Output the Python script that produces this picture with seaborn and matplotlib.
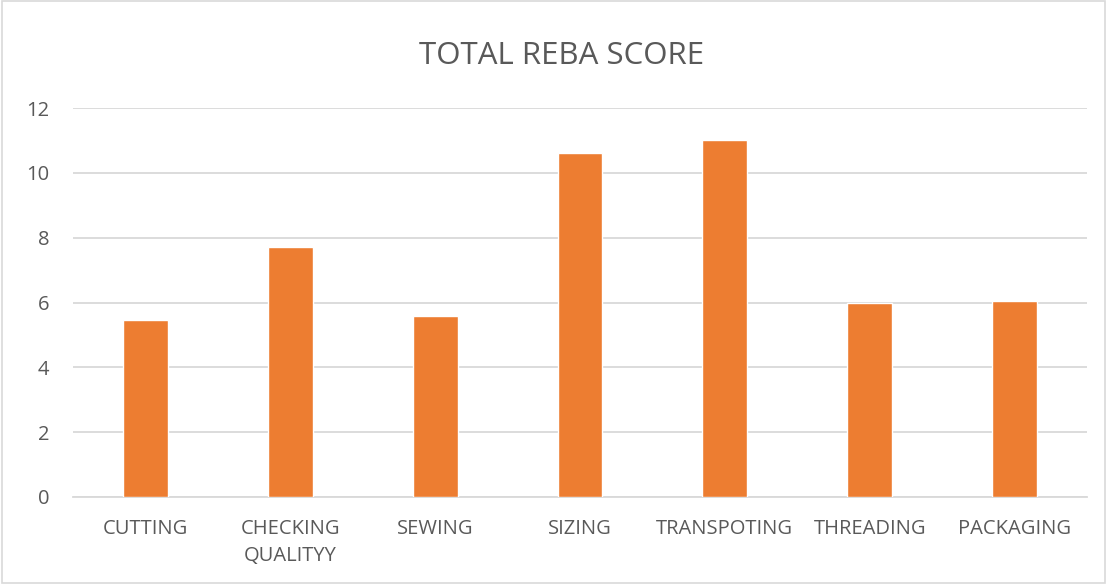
import pandas as pd
import seaborn as sns
import matplotlib.pyplot as plt
from matplotlib.patches import Rectangle

# Data
tasks = ['CUTTING', 'CHECKING\nQUALITYY', 'SEWING', 'SIZING',
         'TRANSPOTING', 'THREADING', 'PACKAGING']
scores = [5.47, 7.70, 5.59, 10.6, 11.0, 6.0, 6.06]

df = pd.DataFrame({'Task': tasks, 'Score': scores})

sns.set_style('white')
plt.rcParams['font.family'] = ['Open Sans', 'DejaVu Sans']

fig = plt.figure(figsize=(11.07, 5.84), dpi=100)
ax = fig.add_axes([73 / 1107, 1 - 497 / 584, (1087 - 73) / 1107, (497 - 108) / 584])

sns.barplot(data=df, x='Task', y='Score', color='#ED7D31', saturation=1,
            width=0.31, ax=ax, zorder=3)

ax.set_ylim(0, 12)
ax.set_yticks(range(0, 13, 2))
ax.set_xlim(-0.5, len(tasks) - 0.5)
ax.yaxis.grid(True, color='#D9D9D9', linewidth=1.3, zorder=0)
ax.set_axisbelow(True)
for side in ['left', 'right', 'top']:
    ax.spines[side].set_visible(False)
ax.spines['bottom'].set_color('#D9D9D9')
ax.spines['bottom'].set_linewidth(1.3)
ax.tick_params(axis='both', length=0, labelsize=14.5, labelcolor='#595959')
ax.tick_params(axis='x', pad=16)
ax.tick_params(axis='y', pad=17)
for lbl in ax.get_xticklabels():
    lbl.set_verticalalignment('top')
    lbl.set_linespacing(1.45)
ax.set_xlabel('')
ax.set_ylabel('')

fig.text(562 / 1107, 1 - 56 / 584, 'TOTAL REBA SCORE', ha='center', va='center',
         fontsize=22.5, color='#595959')

# light frame around the whole chart
fig.patches.append(Rectangle((0.002, 0.002), 0.996, 0.996, transform=fig.transFigure,
                             fill=False, edgecolor='#D9D9D9', linewidth=1.2))

fig.savefig('out.png', dpi=100)
